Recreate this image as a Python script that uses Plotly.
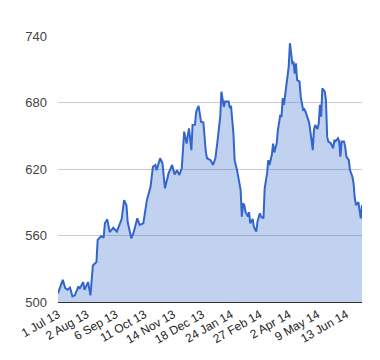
import plotly.graph_objects as go

# trading-day index (0 = 1 Jul 2013) and value
day_index = [0, 2, 4, 6, 8, 10, 12, 14, 17, 18,
             21, 22, 24, 25, 27, 29, 32, 33, 36, 38,
             39, 41, 43, 46, 49, 52, 53, 55, 57, 58,
             59, 61, 63, 66, 68, 71, 74, 77, 79, 81,
             82, 85, 87, 88, 89, 92, 95, 97, 99, 101,
             103, 105, 107, 109, 111, 112, 114, 115, 117, 118,
             119, 121, 122, 123, 124, 127, 129, 131, 133, 135,
             136, 138, 139, 142, 143, 144, 146, 147, 149, 150,
             152, 153, 154, 155, 156, 158, 159, 160, 162, 163,
             165, 166, 168, 169, 171, 172, 174, 175, 176, 178,
             179, 180, 182, 183, 185, 186, 187, 188, 190, 192,
             193, 195, 196, 197, 198, 199, 201, 202, 204, 205,
             206, 208, 209, 211, 212, 213, 214, 216, 217, 218,
             219, 220, 222, 223, 224, 225, 227, 229, 230, 231,
             233, 234, 235, 236, 238, 239, 240, 242, 243, 245,
             246, 247, 248, 250, 251, 252, 253]
price = [507.8, 514, 520, 512.6, 511, 513, 505, 506, 514, 512,
         518, 511, 517, 518, 506, 533, 536, 556, 559.5, 558,
         571, 574.6, 563, 567, 563.5, 573, 575, 592, 587, 572,
         566, 557.5, 563, 575.5, 569.5, 571, 592, 604, 622, 623.6,
         619, 629.7, 625, 610, 602.6, 616, 623.6, 615, 619, 614.6,
         620.7, 653.7, 643, 656.7, 637, 659.7, 660, 671.7, 677, 670,
         662.7, 662, 646, 635.6, 629.7, 628, 623.6, 629.7, 647.7, 667,
         689.8, 676, 681, 681, 675, 677, 652, 628, 619, 613,
         601, 577, 589, 587.5, 581.5, 577, 581, 571, 575, 568,
         563.5, 572.5, 580, 577, 575.5, 602.6, 616, 628, 623.6, 633,
         643, 635, 643, 655, 668.8, 667, 683.8, 677.8, 695.8, 712.4,
         733.5, 715.4, 716, 706, 715.4, 700.4, 698.8, 685.3, 673.3, 674,
         671.7, 664.3, 662, 646, 637, 655, 659.7, 656, 661.3, 677.8,
         667.2, 692.9, 689.8, 682.3, 649.2, 644.7, 643.2, 638.7, 646.2, 645,
         647.7, 645, 631.1, 644.7, 644.7, 640.2, 631.1, 628.2, 619.1, 613.1,
         607, 593.6, 587.5, 590, 580, 575.5, 587.5]

tick_days = [0, 24, 48, 72, 96, 120, 144, 168, 192, 216, 240]
tick_labels = ["1 Jul 13", "2 Aug 13", "6 Sep 13", "11 Oct 13", "14 Nov 13", "18 Dec 13",
               "24 Jan 14", "27 Feb 14", "2 Apr 14", "9 May 14", "13 Jun 14"]
y_ticks = [500, 560, 620, 680, 740]

fig = go.Figure(go.Scatter(
    x=day_index, y=price, mode="lines",
    line=dict(color="#3366cc", width=2),
    fill="tozeroy", fillcolor="rgba(51,102,204,0.3)",
    hoverinfo="skip",
))

# the page body adds an 8px offset, so margins are compensated for it
fig.update_layout(
    width=380, height=360,
    margin=dict(l=50, r=26, t=28, b=66),
    paper_bgcolor="white", plot_bgcolor="white",
    showlegend=False,
    font=dict(family="Liberation Sans, Arial, sans-serif", size=13, color="#444"),
    xaxis=dict(
        range=[0, 253], tickvals=tick_days, ticktext=tick_labels,
        tickangle=-30, showgrid=False, zeroline=False, automargin=False,
        showline=True, linecolor="#333", linewidth=1,
        ticks="", tickfont=dict(size=12, color="#222"),
    ),
    yaxis=dict(
        range=[500, 740], tickvals=y_ticks, showgrid=True, automargin=False,
        gridcolor="#cccccc", gridwidth=1, zeroline=False,
        ticks="", ticklabelstandoff=10, tickfont=dict(size=13, color="#444"),
    ),
)

fig.write_html("out.html", config={"displayModeBar": False})
